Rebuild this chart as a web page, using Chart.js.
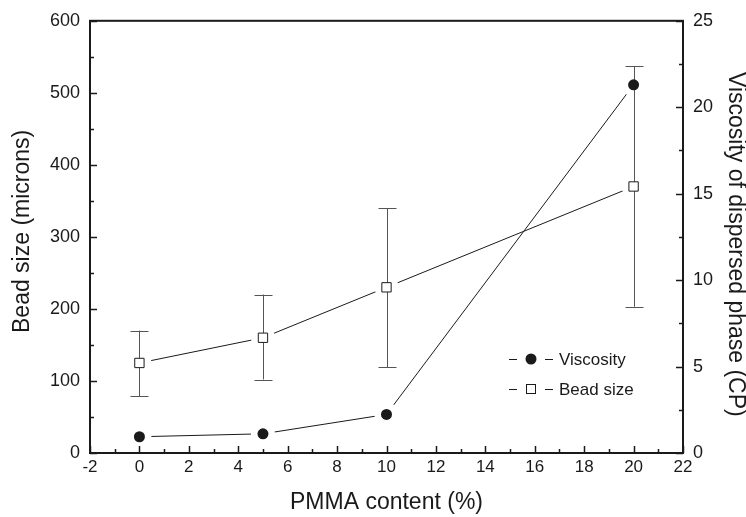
<!DOCTYPE html>
<html>
<head>
<meta charset="utf-8">
<script src="https://cdn.jsdelivr.net/npm/chart.js@4/dist/chart.umd.min.js"></script>
<style>
  html, body { margin: 0; padding: 0; background: #fff; }
  #wrap { width: 746px; height: 517px; }
</style>
</head>
<body>
<div id="wrap"><canvas id="chart" width="746" height="517"></canvas></div>
<script>
// values
const pmma = [0, 5, 10, 20];
const beadSize = [125, 160, 230, 370];
const beadLow = [79, 102, 119, 203];
const beadHigh = [170, 220, 340, 537];
const viscosity = [0.94, 1.11, 2.23, 21.3];

const xTicks = [-2, 0, 2, 4, 6, 8, 10, 12, 14, 16, 18, 20, 22];
const legendLabels = ['Viscosity', 'Bead size'];
const leftTitle = 'Bead size (microns)';
const rightTitle = 'Viscosity of dispersed phase (CP)';

const ink = '#1a1a1a';
const fontName = '"Liberation Sans", Arial, sans-serif';

const pts = function(ys) {
    return pmma.map((x, i) => ({x: x, y: ys[i]}));
};

// inward ticks, frame, error bars, side titles and the little legend
const decor = {
    id: 'decor',
    afterDatasetDraw: function(chart, args) {
        if (args.index !== 2) return;
        const ctx = chart.ctx;
        const xs = chart.scales.x, ys = chart.scales.y;
        ctx.save();
        ctx.strokeStyle = '#555';
        ctx.lineWidth = 1;
        pmma.forEach((v, i) => {
            const px = Math.round(xs.getPixelForValue(v)) + 0.5;
            const lo = ys.getPixelForValue(beadLow[i]);
            const hi = ys.getPixelForValue(beadHigh[i]);
            ctx.beginPath();
            ctx.moveTo(px, lo); ctx.lineTo(px, hi);
            ctx.moveTo(px - 9, Math.round(lo) + 0.5); ctx.lineTo(px + 9, Math.round(lo) + 0.5);
            ctx.moveTo(px - 9, Math.round(hi) + 0.5); ctx.lineTo(px + 9, Math.round(hi) + 0.5);
            ctx.stroke();
        });
        ctx.restore();
    },
    afterDraw: function(chart) {
        const ctx = chart.ctx;
        const a = chart.chartArea;
        const xs = chart.scales.x, ys = chart.scales.y, y2 = chart.scales.y2;
        ctx.save();
        ctx.strokeStyle = ink;
        ctx.lineWidth = 1.5;
        ctx.beginPath();
        for (let v = -2; v <= 22; v += 1) {
            const px = Math.round(xs.getPixelForValue(v)) + 0.5;
            const len = (v % 2 === 0) ? 7 : 4;
            ctx.moveTo(px, a.bottom); ctx.lineTo(px, a.bottom - len);
        }
        for (let v = 0; v <= 600; v += 50) {
            const py = Math.round(ys.getPixelForValue(v)) + 0.5;
            const len = (v % 100 === 0) ? 7 : 4;
            ctx.moveTo(a.left, py); ctx.lineTo(a.left + len, py);
        }
        for (let v = 0; v <= 25; v += 2.5) {
            const py = Math.round(y2.getPixelForValue(v)) + 0.5;
            const len = (v % 5 === 0) ? 7 : 4;
            ctx.moveTo(a.right, py); ctx.lineTo(a.right - len, py);
        }
        ctx.stroke();
        ctx.lineWidth = 2;
        ctx.strokeRect(a.left, a.top, a.right - a.left, a.bottom - a.top);

        // side titles
        ctx.fillStyle = ink;
        ctx.font = '23px ' + fontName;
        ctx.textAlign = 'left';
        ctx.textBaseline = 'alphabetic';
        ctx.save();
        ctx.translate(29, 333);
        ctx.rotate(-Math.PI / 2);
        ctx.fillText(leftTitle, 0, 0);
        ctx.restore();
        ctx.save();
        ctx.translate(729, 72);
        ctx.rotate(Math.PI / 2);
        ctx.fillText(rightTitle, 0, 0);
        ctx.restore();

        // legend
        ctx.lineWidth = 1;
        ctx.font = '17px ' + fontName;
        ctx.textBaseline = 'middle';
        const rows = [359, 389];
        rows.forEach((ry, i) => {
            ctx.strokeStyle = ink;
            ctx.beginPath();
            ctx.moveTo(509, ry + 0.5); ctx.lineTo(517, ry + 0.5);
            ctx.moveTo(545, ry + 0.5); ctx.lineTo(553, ry + 0.5);
            ctx.stroke();
            if (i === 0) {
                ctx.beginPath();
                ctx.arc(531, ry, 5.5, 0, Math.PI * 2);
                ctx.fill();
            } else {
                ctx.fillStyle = '#fff';
                ctx.fillRect(526.5, ry - 4.5, 9, 9);
                ctx.strokeRect(526.5, ry - 4.5, 9, 9);
                ctx.fillStyle = ink;
            }
            ctx.fillText(legendLabels[i], 559, ry + 1);
        });
        ctx.restore();
    }
};

const titleFont = {family: fontName, size: 23, lineHeight: 1};

const config = {
    type: 'line',
    data: {
        datasets: [
            {data: pts(beadSize), yAxisID: 'y', borderColor: ink, borderWidth: 1, pointRadius: 0, order: 5},
            {data: pts(viscosity), yAxisID: 'y2', borderColor: ink, borderWidth: 1, pointRadius: 0, order: 5},
            {data: pts(beadSize), yAxisID: 'y', showLine: false, pointRadius: 12, pointBorderWidth: 0,
             pointBackgroundColor: '#fff', pointBorderColor: '#fff', order: 4},
            {data: pts(viscosity), yAxisID: 'y2', showLine: false, pointRadius: 12, pointBorderWidth: 0,
             pointBackgroundColor: '#fff', pointBorderColor: '#fff', order: 4},
            {data: pts(beadSize), yAxisID: 'y', showLine: false, pointStyle: 'rect', pointRadius: 6.6,
             pointBackgroundColor: '#fff', pointBorderColor: ink, pointBorderWidth: 1, order: 1},
            {data: pts(viscosity), yAxisID: 'y2', showLine: false, pointStyle: 'circle', pointRadius: 5.5,
             pointBackgroundColor: ink, pointBorderColor: ink, pointBorderWidth: 0, order: 1}
        ]
    },
    options: {
        responsive: false,
        animation: false,
        devicePixelRatio: 1,
        layout: {padding: {top: 20, left: 0, right: 0, bottom: 0}},
        plugins: {legend: {display: false}, tooltip: {enabled: false}},
        scales: {
            x: {
                type: 'linear', min: -2, max: 22,
                afterBuildTicks: function(s) { s.ticks = xTicks.map(v => ({value: v})); },
                afterFit: function(s) { s.height = 64; },
                grid: {display: false, drawTicks: false},
                border: {display: false},
                ticks: {font: {family: fontName, size: 17}, color: ink, padding: 4, maxRotation: 0},
                title: {display: true, text: 'PMMA content (%)', font: titleFont, color: ink, padding: {top: 0, bottom: 3}}
            },
            y: {
                type: 'linear', position: 'left', min: 0, max: 600,
                afterFit: function(s) { s.width = 90; },
                grid: {display: false, drawTicks: false},
                border: {display: false},
                ticks: {stepSize: 100, font: {family: fontName, size: 18}, color: ink, padding: 10}
            },
            y2: {
                type: 'linear', position: 'right', min: 0, max: 25,
                afterFit: function(s) { s.width = 63; },
                grid: {display: false, drawTicks: false},
                border: {display: false},
                ticks: {stepSize: 5, font: {family: fontName, size: 18}, color: ink, padding: 10}
            }
        }
    },
    plugins: [decor]
};

new Chart(document.getElementById('chart'), config);
</script>
</body>
</html>
